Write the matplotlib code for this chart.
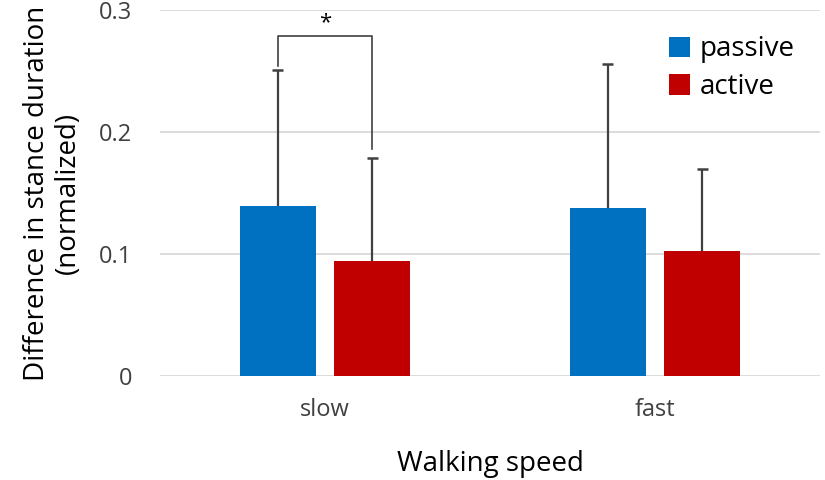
import matplotlib.pyplot as plt
import numpy as np

plt.rcParams['font.family'] = ['Open Sans', 'DejaVu Sans']

# data
speeds = ["slow", "fast"]
passive = [0.139, 0.138]
passive_err = [0.112, 0.118]
active = [0.094, 0.102]
active_err = [0.085, 0.068]

x = np.arange(len(speeds))
w = 0.23
off = 0.143

fig = plt.figure(figsize=(8.25, 4.8), dpi=100)
ax = fig.add_axes([0.194, 0.217, 0.8, 0.762])

ax.bar(x - off, passive, w, color="#0070C0", label="passive", zorder=3)
ax.bar(x + off, active, w, color="#C00000", label="active", zorder=3)

# upper error bars only
ec = "#404040"
for xs, vals, errs in [(x - off, passive, passive_err), (x + off, active, active_err)]:
    tops = np.array(vals) + np.array(errs)
    ax.vlines(xs, vals, tops, color=ec, lw=1.6, zorder=4)
    ax.hlines(tops, xs - 0.017, xs + 0.017, color=ec, lw=1.8, zorder=4)

# significance bracket
ax.plot([-off, -off, off, off], [0.2545, 0.279, 0.279, 0.186],
        color=ec, lw=1.2, zorder=4)
ax.text(0, 0.281, "*", ha="center", va="bottom", fontsize=16)

ax.set_xlim(-0.5, 1.5)
ax.set_ylim(0, 0.3)
ax.set_yticks([0, 0.1, 0.2, 0.3])
ax.set_yticklabels(["0", "0.1", "0.2", "0.3"])
ax.set_xticks(x)
ax.set_xticklabels(speeds)
ax.tick_params(length=0, labelsize=17, labelcolor="#404040")
ax.tick_params(axis="y", pad=20)
ax.tick_params(axis="x", pad=16)
ax.grid(axis="y", color="#d9d9d9", lw=1.3, zorder=0)
for s in ax.spines.values():
    s.set_visible(False)

ax.set_xlabel("Walking speed", fontsize=20, labelpad=20)
ax.set_ylabel("Difference in stance duration\n(normalized)", fontsize=20,
              labelpad=12, linespacing=1.15)

ax.legend(loc="upper right", bbox_to_anchor=(1.0, 0.999), frameon=False,
          fontsize=20, handlelength=0.75, handleheight=0.75, handletextpad=0.35,
          labelspacing=0.35)

fig.savefig("out.png")
